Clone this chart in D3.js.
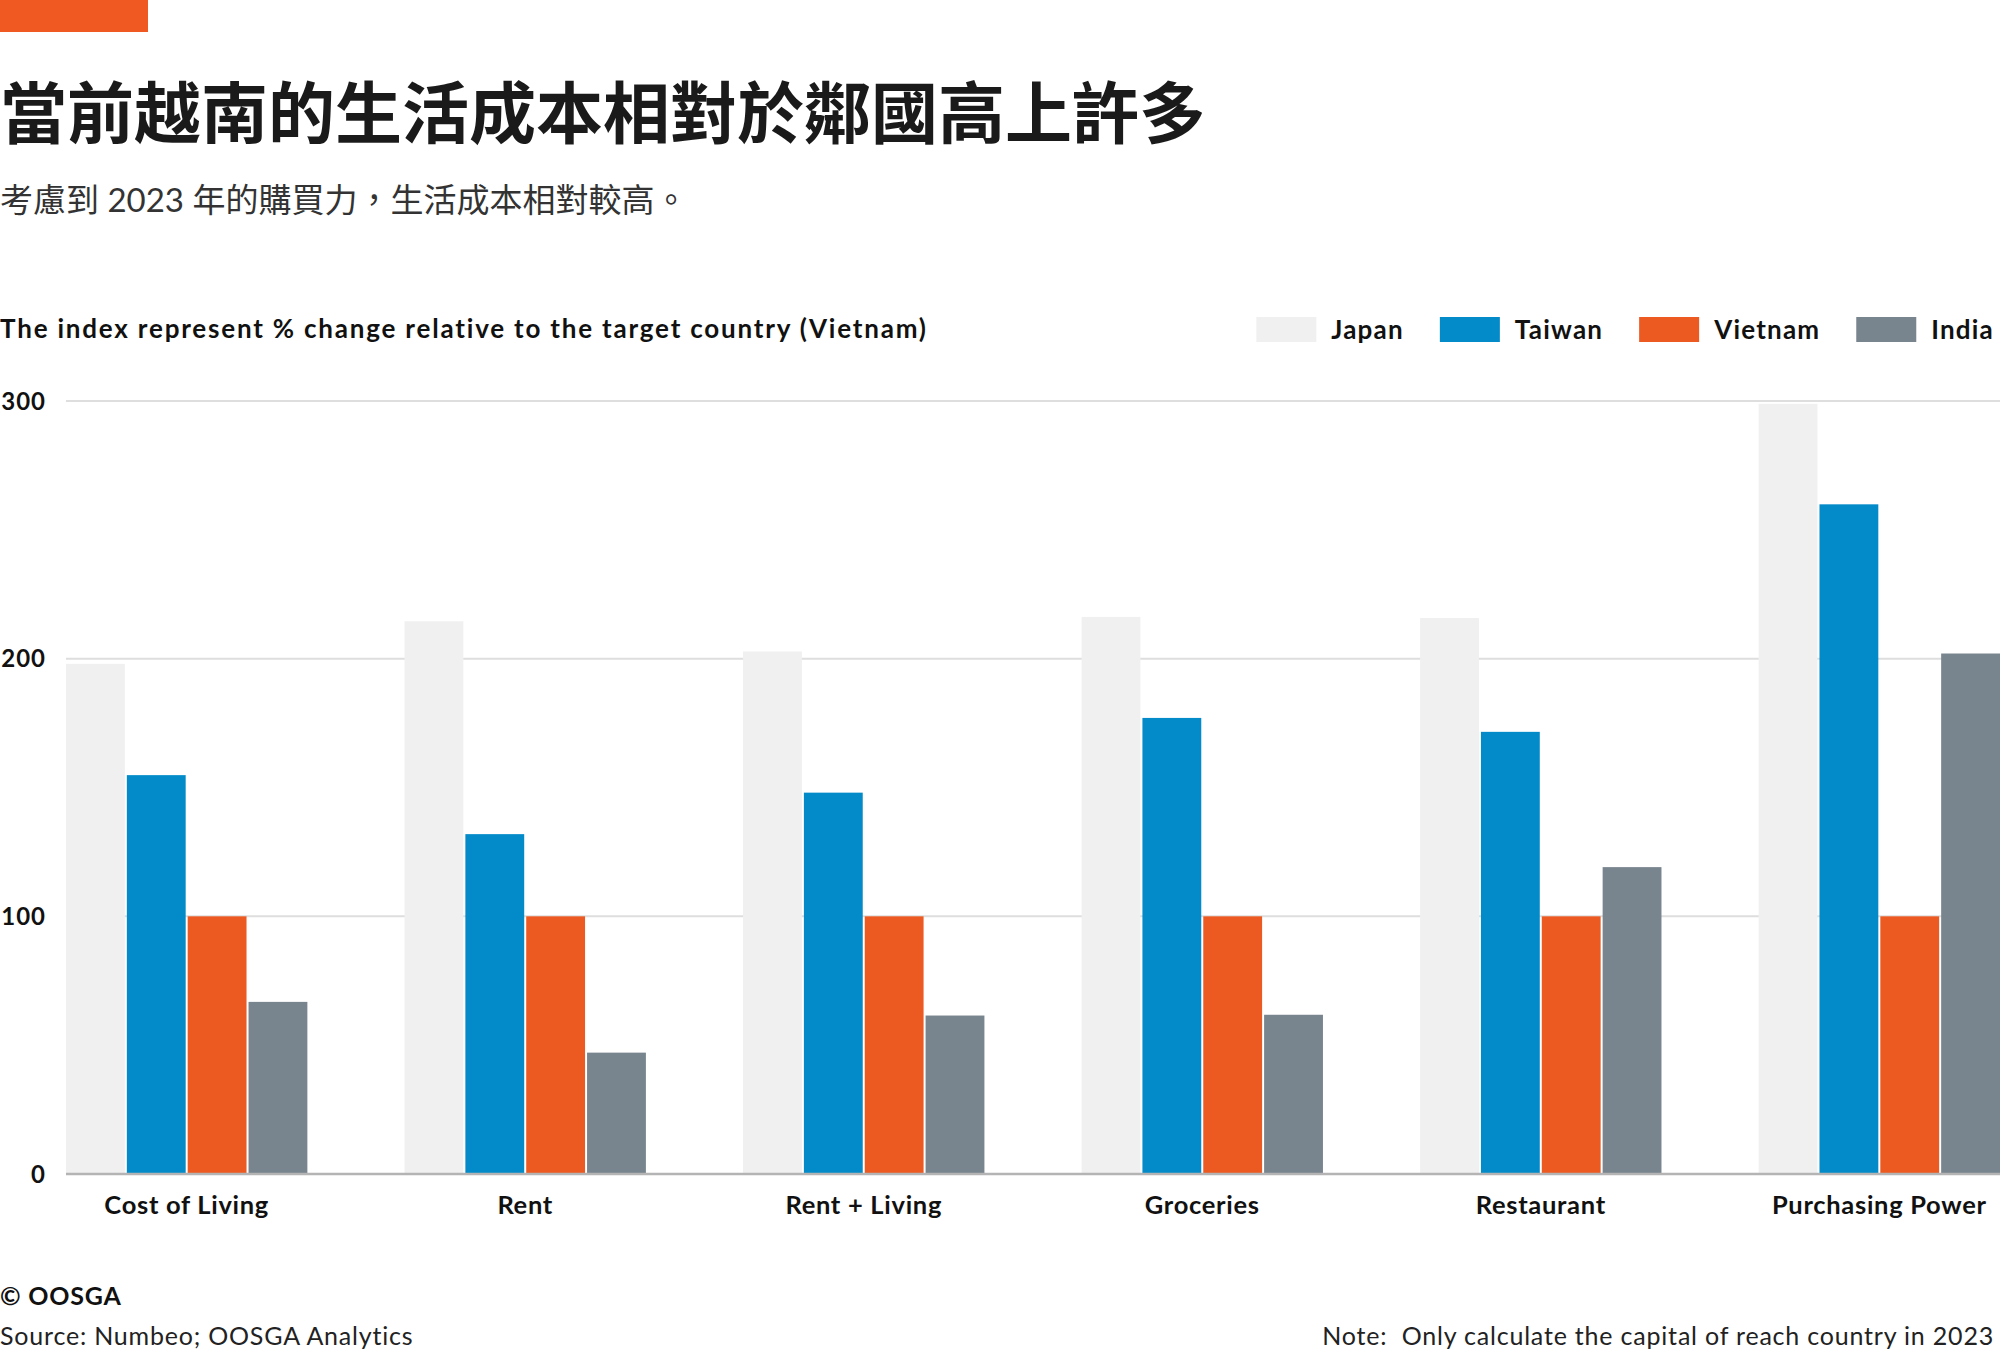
<!DOCTYPE html>
<html>

<head>
  <meta charset="UTF-8">
  <title>Vietnam cost of living</title>
  <script src="https://d3js.org/d3.v7.min.js"></script>
  <style>
    body {
      margin: 0;
      background: #fff;
    }
    text {
      font-family: Lato, "Noto Sans CJK TC", sans-serif;
    }
  </style>
</head>

<body>
  <svg></svg>
</body>

<script>
  let width = 2000,
    height = 1350;

  // chart data
  let categories = ["Cost of Living", "Rent", "Rent + Living", "Groceries", "Restaurant", "Purchasing Power"];
  let countries = ["Japan", "Taiwan", "Vietnam", "India"];
  let japan = [198, 214.5, 202.8, 216.2, 215.8, 298.9];
  let taiwan = [154.8, 131.9, 148, 177, 171.6, 259.9];
  let vietnam = [100, 100, 100, 100, 100, 100];
  let india = [66.8, 47.1, 61.5, 61.8, 119.1, 202];
  let yTicks = [0, 100, 200, 300];

  let colors = ["#f0f0f0", "#038bc9", "#ec5a22", "#78848e"];

  let series = [japan, taiwan, vietnam, india];
  let rows = [];
  categories.forEach((c, i) => {
    countries.forEach((k, j) => rows.push({ cat: c, country: k, value: series[j][i] }));
  });

  let svg = d3.select("svg")
    .attr("width", width)
    .attr("height", height)
    .attr("viewBox", "0 0 " + width + " " + height);

  // header
  svg.append("rect").attr("x", 0).attr("y", 0).attr("width", 148).attr("height", 32).attr("fill", "#f05a22");

  svg.append("text")
    .attr("x", 0).attr("y", 138)
    .style("font-family", "'Noto Sans CJK TC', sans-serif")
    .style("font-weight", 700)
    .style("font-size", "67px")
    .attr("fill", "#1a1a1a")
    .text("當前越南的生活成本相對於鄰國高上許多");

  svg.append("text")
    .attr("x", 0).attr("y", 212)
    .style("font-size", "33px")
    .attr("fill", "#333")
    .text("考慮到 2023 年的購買力，生活成本相對較高。");

  svg.append("text")
    .attr("x", 0).attr("y", 338)
    .style("font-weight", 700)
    .style("font-size", "26px")
    .style("letter-spacing", "1.8px")
    .attr("fill", "#111")
    .text("The index represent % change relative to the target country (Vietnam)");

  // scales
  let x = d3.scaleBand()
    .domain(categories)
    .range([66, 2000])
    .paddingInner(0.287)
    .paddingOuter(0);

  let xInner = d3.scaleBand()
    .domain(countries)
    .range([0, x.bandwidth()])
    .paddingInner(0.033);

  let y = d3.scaleLinear()
    .domain([0, 300])
    .range([1174, 401]);

  let color = d3.scaleOrdinal().domain(countries).range(colors);

  // grid
  svg.append("g")
    .selectAll("line")
    .data(yTicks.filter(t => t > 0))
    .enter()
    .append("line")
    .attr("x1", 66).attr("x2", width)
    .attr("y1", d => y(d)).attr("y2", d => y(d))
    .attr("stroke", "#dedede")
    .attr("stroke-width", 2);

  svg.append("g")
    .selectAll("text")
    .data(yTicks)
    .enter()
    .append("text")
    .attr("x", 46)
    .attr("y", d => y(d))
    .attr("dy", "0.36em")
    .attr("text-anchor", "end")
    .style("font-weight", 700)
    .style("font-size", "24px")
    .style("letter-spacing", "1px")
    .attr("fill", "#111")
    .text(d => d);

  // bars
  svg.append("g")
    .selectAll("rect")
    .data(rows)
    .enter()
    .append("rect")
    .attr("x", d => x(d.cat) + xInner(d.country))
    .attr("width", xInner.bandwidth())
    .attr("y", d => y(d.value))
    .attr("height", d => y(0) - y(d.value))
    .attr("fill", d => color(d.country));

  // baseline
  svg.append("line")
    .attr("x1", 66).attr("x2", width)
    .attr("y1", y(0)).attr("y2", y(0))
    .attr("stroke", "#b4b4b4")
    .attr("stroke-width", 2.5);

  svg.append("g")
    .selectAll("text")
    .data(categories)
    .enter()
    .append("text")
    .attr("x", d => x(d) + x.bandwidth() / 2)
    .attr("y", 1214)
    .attr("text-anchor", "middle")
    .style("font-weight", 700)
    .style("font-size", "25.5px")
    .style("letter-spacing", "0.7px")
    .attr("fill", "#111")
    .text(d => d);

  // legend, laid out from the right edge
  let legend = svg.append("g");
  let right = 1994;
  countries.slice().reverse().forEach(k => {
    let t = legend.append("text")
      .attr("y", 339)
      .style("font-weight", 700)
      .style("font-size", "26px")
      .style("letter-spacing", "1.2px")
      .attr("fill", "#111")
      .text(k);
    let w = t.node().getComputedTextLength();
    t.attr("x", right - w);
    legend.append("rect")
      .attr("x", right - w - 15 - 60)
      .attr("y", 317)
      .attr("width", 60)
      .attr("height", 25)
      .attr("fill", color(k));
    right = right - w - 15 - 60 - 36;
  });

  // footer
  svg.append("text")
    .attr("x", 0).attr("y", 1305)
    .style("font-weight", 700)
    .style("font-size", "25px")
    .style("letter-spacing", "0.8px")
    .attr("fill", "#111")
    .text("© OOSGA");

  svg.append("text")
    .attr("x", 0).attr("y", 1345)
    .style("font-size", "25px")
    .style("letter-spacing", "0.8px")
    .attr("fill", "#222")
    .text("Source: Numbeo; OOSGA Analytics");

  svg.append("text")
    .attr("x", 1994).attr("y", 1345)
    .attr("text-anchor", "end")
    .style("font-size", "25px")
    .style("letter-spacing", "0.8px")
    .style("white-space", "pre")
    .attr("fill", "#222")
    .text("Note:  Only calculate the capital of reach country in 2023");
</script>
</html>
